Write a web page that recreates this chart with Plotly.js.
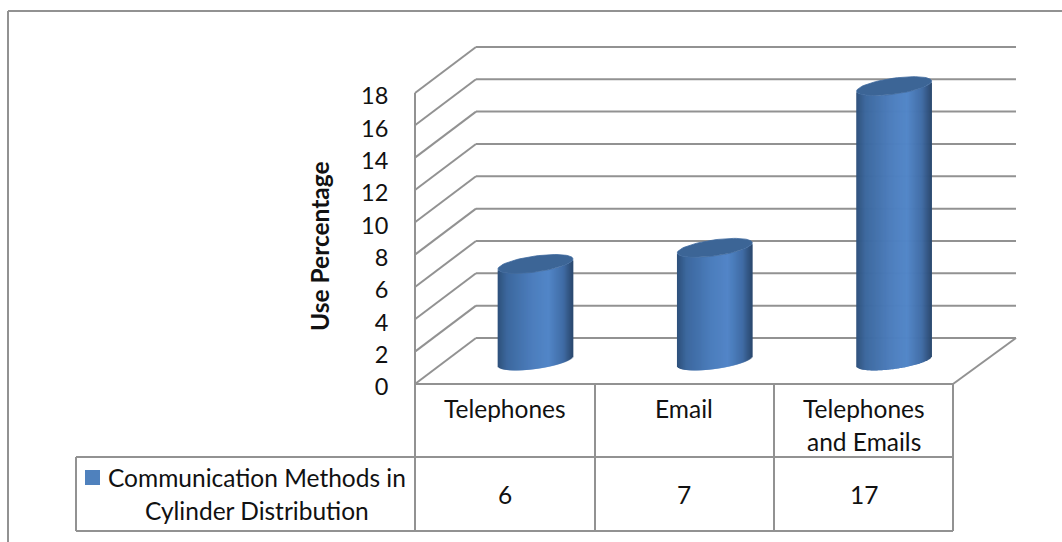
<!DOCTYPE html>
<html>
<head>
<meta charset="utf-8">
<script src="https://cdn.plot.ly/plotly-3.0.1.min.js"></script>
<style>html,body{margin:0;padding:0;background:#fff;overflow:hidden}</style>
</head>
<body>
<div id="chart" style="width:1062px;height:542px"></div>
<script>
// Chart content
const categoryLines = [["Telephones"], ["Email"], ["Telephones", "and Emails"]];
const values = [6, 7, 17];
const yTicks = [0, 2, 4, 6, 8, 10, 12, 14, 16, 18];
const seriesLines = ["Communication Methods in", "Cylinder Distribution"];
const yTitle = "Use Percentage";

// Pixel scale of the front plane, and the oblique depth of the 3-D box
const W = 1062, H = 542;
const catPx = 179.3, valPx = 16.17, firstCatX = 505, zeroY = 384;
const depthX = 61, depthY = 46;
const X = px => (px - firstCatX) / catPx;
const Y = py => (zeroY - py) / valPx;
const lineColor = "#929292";
const fontFamily = "Lato, sans-serif";
const textColor = "#111111";
const textSize = 24.5, tickSize = 23.5;

// Cylinder shape: half width, tilt of the ellipse and its minor radius, in pixels
const radius = 37.5, tilt = 5, minor = 8;
const depthMidX = depthX / 2, depthMidY = 23;
const shadeStops = [[-1, [46, 80, 122]], [-0.75, [60, 104, 158]], [-0.1, [76, 125, 188]],
                    [0.35, [82, 134, 200]], [0.75, [64, 108, 165]], [1, [42, 72, 110]]];

function shade(u) {
  for (let i = 1; i < shadeStops.length; i++) {
    if (u <= shadeStops[i][0]) {
      const [u0, c0] = shadeStops[i - 1], [u1, c1] = shadeStops[i];
      const t = (u - u0) / (u1 - u0);
      return "rgb(" + c0.map((c, k) => Math.round(c + (c1[k] - c) * t)).join(",") + ")";
    }
  }
  return "rgb(42,72,110)";
}

const xIdx = values.map((_, i) => i);
const traces = [];

// Cylinder sides: narrow vertical strips whose height is the value itself
const stripCount = 75;
for (let s = 0; s < stripCount; s++) {
  const u = -1 + 2 * (s + 0.5) / stripCount;
  const lift = (tilt * u - minor * Math.sqrt(1 - u * u)) / valPx;
  const wide = 2 * radius / stripCount + 0.7;
  traces.push({
    type: "bar", x: xIdx, y: values,
    base: depthMidY / valPx + lift,
    width: wide / catPx,
    offset: (depthMidX + radius * u - wide / 2) / catPx,
    marker: {color: shade(u), line: {width: 0}},
    hoverinfo: "skip", showlegend: false
  });
}

// Top caps of the cylinders
const capX = [], capY = [];
values.forEach((v, i) => {
  for (let a = 0; a <= 72; a++) {
    const t = a / 72 * 2 * Math.PI;
    capX.push(i + (depthMidX + radius * Math.cos(t)) / catPx);
    capY.push(v + (depthMidY + tilt * Math.cos(t) + minor * Math.sin(t)) / valPx);
  }
  capX.push(null); capY.push(null);
});
traces.push({
  type: "scatter", mode: "lines", x: capX, y: capY,
  fill: "toself", fillcolor: "#3c6596",
  line: {color: "#3f6a9e", width: 0.8},
  hoverinfo: "skip", showlegend: false
});

// Walls, floor and data table are line shapes beneath the bars
const frontL = 415, frontR = 953, rowTop = 457, rowBottom = 531, tableL = 76;
const colEdges = [415, 595, 774, 953];
const shapes = [];
function seg(x0, y0, x1, y1, width) {
  shapes.push({type: "line", layer: "below", xref: "x", yref: "y",
    x0: X(x0), y0: Y(y0), x1: X(x1), y1: Y(y1),
    line: {color: lineColor, width: width || 2}});
}
yTicks.forEach(v => {
  const py = zeroY - v * valPx;
  seg(frontL, py, frontL + depthX, py - depthY);
  seg(frontL + depthX, py - depthY, frontR + depthX + 2, py - depthY);
});
seg(frontL, zeroY - yTicks[yTicks.length - 1] * valPx, frontL, rowBottom);
seg(frontL, zeroY, frontR, zeroY);
seg(frontR, zeroY, frontR + depthX + 2, zeroY - depthY);
colEdges.slice(1).forEach(c => seg(c, zeroY, c, rowBottom));
seg(tableL, rowTop, frontR, rowTop);
seg(tableL, rowBottom, frontR, rowBottom);
seg(tableL, rowTop, tableL, rowBottom);

// Outer chart border
seg(8, 11, W, 11, 2);
seg(8, 11, 8, H, 2);

// Legend key inside the table
shapes.push({type: "rect", layer: "below", xref: "x", yref: "y",
  x0: X(85), x1: X(100), y0: Y(470), y1: Y(485),
  fillcolor: "#4f81bd", line: {width: 0}});

// Table text
const annotations = [];
function label(text, px, py, opts) {
  annotations.push(Object.assign({
    text, xref: "x", yref: "y", x: X(px), y: Y(py),
    showarrow: false, xanchor: "center", yanchor: "middle",
    font: {family: fontFamily, size: textSize, color: textColor}
  }, opts || {}));
}
const rowStep = 33;
categoryLines.forEach((lines, i) => {
  lines.forEach((t, k) => label(t, firstCatX + i * catPx, 408 + k * rowStep));
});
values.forEach((v, i) => label(String(v), firstCatX + i * catPx, 494));
label(seriesLines[0], 256.5, 477);
label(seriesLines[1], 256.5, 510);
label(yTitle, 319, 246, {textangle: -90,
  font: {family: fontFamily, size: textSize, color: textColor, weight: "bold"}});

const layout = {
  width: W, height: H, margin: {l: 0, r: 0, t: 0, b: 0},
  paper_bgcolor: "#ffffff", plot_bgcolor: "#ffffff",
  barmode: "overlay", showlegend: false,
  font: {family: fontFamily, size: textSize, color: textColor},
  xaxis: {type: "linear", range: [X(0), X(W)], tickvals: xIdx,
    showticklabels: false, ticks: "", showgrid: false, zeroline: false, showline: false, fixedrange: true},
  yaxis: {type: "linear", range: [Y(H), Y(0)], anchor: "free", position: frontL / W,
    tickvals: yTicks, ticks: "outside", ticklen: 22, tickcolor: "rgba(0,0,0,0)",
    ticklabelshift: 3,
    tickfont: {family: fontFamily, size: tickSize, color: textColor},
    showgrid: false, zeroline: false, showline: false, fixedrange: true},
  shapes, annotations
};

Plotly.newPlot("chart", traces, layout, {displayModeBar: false, staticPlot: true});
</script>
</body>
</html>
